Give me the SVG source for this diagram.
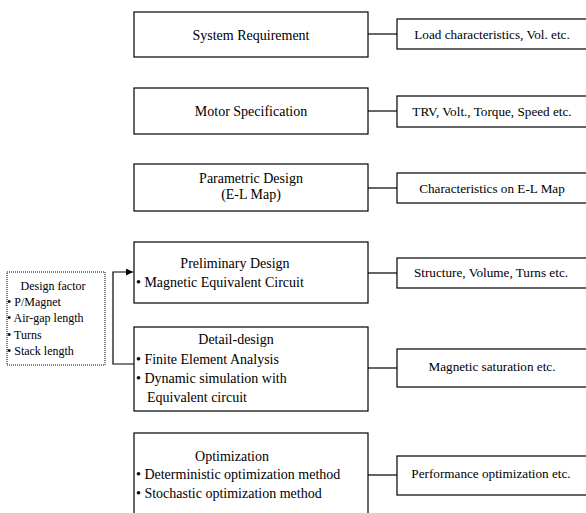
<svg xmlns="http://www.w3.org/2000/svg" width="586" height="513" viewBox="0 0 586 513" font-family="'Liberation Serif', 'Times New Roman', Times, serif">
<defs>
<style>
.box{fill:#fff;stroke:#000;stroke-width:1.2}
.dot{fill:#fff;stroke:#000;stroke-width:1;stroke-dasharray:1 1}
.ln{fill:none;stroke:#000;stroke-width:1.2}
text{font-size:14px;fill:#000}
.c{text-anchor:middle}
.r{font-size:13.2px}
.s{font-size:12px}
</style>
<marker id="ah" viewBox="0 0 10 10" refX="10" refY="5" markerWidth="7" markerHeight="7" markerUnits="userSpaceOnUse" orient="auto">
<path d="M0,0 L10,5 L0,10 z" fill="#000"/>
</marker>
</defs>
<g id="connectors">
<line class="ln" x1="368" y1="34" x2="397" y2="34"/>
<line class="ln" x1="368" y1="111" x2="397" y2="111"/>
<line class="ln" x1="368" y1="188" x2="397" y2="188"/>
<line class="ln" x1="368" y1="273" x2="397" y2="273"/>
<line class="ln" x1="368" y1="368" x2="397" y2="368"/>
<line class="ln" x1="368" y1="475" x2="397" y2="475"/>
<polyline class="ln" points="134,364 113,364 113,272 133,272" marker-end="url(#ah)"/>
</g>
<g id="system-requirement">
<rect class="box" x="134" y="12" width="234" height="45"/>
<text class="c" x="251" y="40">System Requirement</text>
</g>
<g id="motor-specification">
<rect class="box" x="134" y="88" width="234" height="46"/>
<text class="c" x="251" y="116">Motor Specification</text>
</g>
<g id="parametric-design">
<rect class="box" x="134" y="164" width="234" height="47"/>
<text class="c" x="251" y="183">Parametric Design</text>
<text class="c" x="251" y="199">(E-L Map)</text>
</g>
<g id="preliminary-design">
<rect class="box" x="134" y="242" width="234" height="61"/>
<text class="c" x="235" y="268">Preliminary Design</text>
<text x="136" y="287">• Magnetic Equivalent Circuit</text>
</g>
<g id="detail-design">
<rect class="box" x="134" y="327" width="234" height="84"/>
<text class="c" x="236" y="344">Detail-design</text>
<text x="136" y="364">• Finite Element Analysis</text>
<text x="136" y="383">• Dynamic simulation with</text>
<text x="147" y="402">Equivalent circuit</text>
</g>
<g id="optimization">
<rect class="box" x="134" y="433" width="234" height="84"/>
<text class="c" x="232" y="461">Optimization</text>
<text x="136" y="479">• Deterministic optimization method</text>
<text x="136" y="498">• Stochastic optimization method</text>
</g>
<g id="load-characteristics">
<rect class="box" x="397" y="19" width="192" height="30"/>
<text class="c r" x="492" y="39">Load characteristics, Vol. etc.</text>
</g>
<g id="trv">
<rect class="box" x="397" y="96" width="192" height="31"/>
<text class="c r" x="492" y="116">TRV, Volt., Torque, Speed etc.</text>
</g>
<g id="el-map">
<rect class="box" x="397" y="173" width="192" height="30"/>
<text class="c r" x="492" y="193">Characteristics on E-L Map</text>
</g>
<g id="structure">
<rect class="box" x="397" y="258" width="192" height="30"/>
<text class="c r" x="491" y="277">Structure, Volume, Turns etc.</text>
</g>
<g id="magnetic-saturation">
<rect class="box" x="397" y="349" width="192" height="38"/>
<text class="c r" x="492" y="371">Magnetic saturation etc.</text>
</g>
<g id="performance">
<rect class="box" x="397" y="456" width="192" height="39"/>
<text class="c r" x="491" y="478">Performance optimization etc.</text>
</g>
<g id="design-factor">
<rect class="dot" x="7" y="272" width="98" height="93"/>
<text class="c s" x="53" y="290">Design factor</text>
<text class="s" x="7" y="306">• P/Magnet</text>
<text class="s" x="7" y="322">• Air-gap length</text>
<text class="s" x="7" y="339">• Turns</text>
<text class="s" x="7" y="355">• Stack length</text>
</g>
</svg>
